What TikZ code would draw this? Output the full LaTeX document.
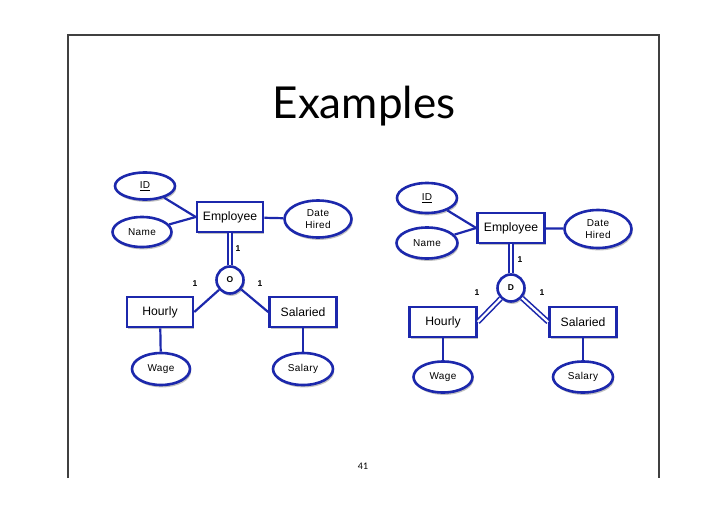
\documentclass[tikz,border=0pt]{standalone}
\usepackage{fontspec}
\setmainfont{Liberation Sans}
\newfontfamily\titlefont{Lato}
\usetikzlibrary{shapes.geometric,shadows}
\definecolor{erblue}{RGB}{28,40,172}
\tikzset{
  base/.style={draw=erblue, line width=2.6pt, fill=white, inner sep=0pt, text=black,
    drop shadow={shadow xshift=1.2pt, shadow yshift=-2.4pt, opacity=0.35, fill=black!70}},
  entity/.style={base, rectangle, minimum width=66pt, minimum height=30pt, font=\fontsize{12.2}{13}\selectfont},
  attr/.style={base, ellipse, minimum width=60pt, minimum height=30pt, font=\addfontfeatures{LetterSpace=4}\fontsize{10}{12.5}\selectfont, align=center},
  spec/.style={base, circle, minimum size=27pt, font=\bfseries\fontsize{8.5}{9}\selectfont},
  conn/.style={draw=erblue, line width=2.2pt},
  dconn/.style={draw=erblue, line width=1.6pt, double=white, double distance=2.2pt},
  card/.style={font=\bfseries\fontsize{8.5}{9}\selectfont, inner sep=0pt}
}
\begin{document}
\begin{tikzpicture}[x=1pt,y=-1pt]
\useasboundingbox (0,0) rectangle (728,514);
% slide frame
\draw[line width=1.2pt, black!75] (68,478) -- (68,35) -- (659,35) -- (659,478);
\node[anchor=base, font=\titlefont\fontsize{44}{46}\selectfont, inner sep=0pt] (title) at (364,118) {Examples};
\node[font=\titlefont\fontsize{9}{10}\selectfont, inner sep=0pt] (pagenum) at (363,466) {41};

% ---------- left diagram ----------
\node[attr, minimum width=60pt, minimum height=27pt] (lid) at (145,186) {\underline{ID}};
\node[attr, minimum width=59pt, minimum height=30pt] (lname) at (142,232) {Name};
\node[entity] (lemp) at (230,217) {Employee};
\node[attr, minimum width=67pt, minimum height=37pt] (ldate) at (318,219) {Date\\Hired};
\node[spec] (lo) at (230,280) {O};
\node[entity] (lhour) at (160,312) {Hourly};
\node[entity, minimum width=67pt] (lsal) at (303,312) {Salaried};
\node[attr, minimum width=58pt, minimum height=32pt] (lwage) at (161,369) {Wage};
\node[attr, minimum width=60pt, minimum height=32pt] (lsalary) at (303,369) {Salary};

\draw[conn] (lid) -- (lemp.west);
\draw[conn] (lname) -- (lemp.west);
\draw[conn] (lemp) -- (ldate);
\draw[dconn] (lemp) -- (lo);
\draw[conn] (lo) -- (lhour.east);
\draw[conn] (lo) -- (lsal.west);
\draw[conn] (lhour) -- (lwage);
\draw[conn] (lsal) -- (lsalary);
\node[card] (lc1) at (238,249) {1};
\node[card] (lc2) at (195,284) {1};
\node[card] (lc3) at (260,284) {1};

% ---------- right diagram ----------
\node[attr, minimum width=60pt, minimum height=30pt] (rid) at (427,198) {\underline{ID}};
\node[attr, minimum width=61pt, minimum height=31pt] (rname) at (427,243) {Name};
\node[entity, minimum width=67pt] (remp) at (511,228) {Employee};
\node[attr, minimum width=67pt, minimum height=38pt] (rdate) at (598,229) {Date\\Hired};
\node[spec] (rd) at (511,288) {D};
\node[entity, minimum width=67pt] (rhour) at (443,322) {Hourly};
\node[entity, minimum width=67pt] (rsal) at (583,322) {Salaried};
\node[attr, minimum width=59pt, minimum height=31pt] (rwage) at (443,377) {Wage};
\node[attr, minimum width=60pt, minimum height=31pt] (rsalary) at (583,377) {Salary};

\draw[conn] (rid) -- (remp.west);
\draw[conn] (rname) -- (remp.west);
\draw[conn] (remp) -- (rdate);
\draw[dconn] (remp) -- (rd);
\draw[dconn] (rd) -- (rhour.east);
\draw[dconn] (rd) -- (rsal.west);
\draw[conn] (rhour) -- (rwage);
\draw[conn] (rsal) -- (rsalary);
\node[card] (rc1) at (520,260) {1};
\node[card] (rc2) at (477,293) {1};
\node[card] (rc3) at (542,293) {1};
\end{tikzpicture}
\end{document}
